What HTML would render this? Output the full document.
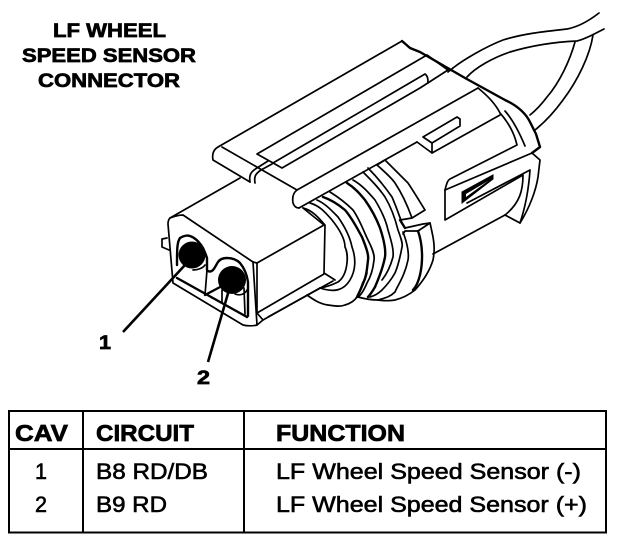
<!DOCTYPE html>
<html>
<head>
<meta charset="utf-8">
<style>
html,body{margin:0;padding:0;background:#fff;width:640px;height:542px;overflow:hidden}
svg{display:block}
text{font-family:"Liberation Sans",sans-serif;fill:#000}
.b{font-weight:bold;stroke:#000;stroke-width:.7px}
.r{stroke:#000;stroke-width:.6px}
.l{fill:none;stroke:#000;stroke-width:1.7;stroke-linejoin:round;stroke-linecap:round}
.t{fill:none;stroke:#000;stroke-width:2.4;stroke-linejoin:round;stroke-linecap:round}
</style>
</head>
<body>
<svg width="640" height="542" viewBox="0 0 640 542" xmlns="http://www.w3.org/2000/svg">
<!-- title -->
<text class="b" x="53" y="37" font-size="19.500" textLength="113" lengthAdjust="spacingAndGlyphs">LF WHEEL</text>
<text class="b" x="22" y="62" font-size="19.500" textLength="174" lengthAdjust="spacingAndGlyphs">SPEED SENSOR</text>
<text class="b" x="38" y="87" font-size="19.500" textLength="142" lengthAdjust="spacingAndGlyphs">CONNECTOR</text>

<!-- wires -->
<path class="l" d="M453 68C463 60 485 47 503 40C525 33 550 31 567 29C578 27 590 20 599 13"/>
<path class="l" d="M467 77C475 68 492 58 510 52C530 46 555 42 577 41C586 39 596 33 604 29"/>
<path class="l" d="M575 42C570 60 560 82 547 97C541 105 535 111 530 115"/>
<path class="l" d="M593 35C590 55 578 80 563 100C555 111 545 122 535 130"/>

<!-- top plate -->
<path class="t" d="M402 41L410 48L420 52L465 78L505 100C518 106 526 114 530 122L536 134L540 147L532 153"/>
<path class="l" d="M218 147L402 41"/>
<path class="l" d="M218 147C213 150 212 155 213 160L250 182"/>
<path class="l" d="M222 147L297 190C293 193 292 197 293 203C294 206 296 208 299 208"/>
<path class="l" d="M297 190L478 88"/>
<path class="l" d="M257 154L427 55L448 70L420 88L282 168Z"/>
<path class="l" d="M273 163L425 74C428 76 428 80 428 83"/>
<path class="l" d="M250 182C249 176 250 172 257 168L268 161"/>
<path class="l" d="M255 183C254 177 255 174 261 170L272 164"/>
<path class="l" d="M448 72L453 68"/>

<!-- tab -->
<path class="l" d="M417 142L432 153L432 143L460 126L460 119L457 117L423 137L432 143"/>
<path class="l" d="M432 153L500 115"/>
<path class="l" d="M478 88C488 96 496 105 500 113C508 122 514 132 517 145L450 179C448 180 447 182 445 190"/>
<path class="l" d="M505 111C513 120 520 134 525 146"/>
<path class="l" d="M299 208L417 142"/>

<!-- clip side -->
<path class="l" d="M445 190L532 153L540 160L538 177C536 190 530 207 520 223L505 215"/>
<path class="l" d="M445 190L445 220L523 175C523 190 520 203 505 215"/>
<path class="l" d="M467 203L530 170C529 185 526 205 520 223"/>
<path class="l" d="M505 215L433 254"/>
<path d="M462 192L493 175L493 179L462 203Z" fill="#000" stroke="#000" stroke-width="1"/>
<path d="M466 194L488 181L466 197Z" fill="#fff"/>

<!-- ribs -->
<path class="l" d="M303 208C312 210 319 218 325 225L324 273L335 280"/>
<path class="l" d="M310 203C320 206 325 212 332 220C340 230 345 240 345 247C349 255 348 275 338 282C332 285 326 287 320 288"/>
<path class="l" d="M317 200C326 204 332 211 338 217C345 227 350 237 352 247C356 258 356 270 350 280C344 290 335 293 320 288"/>
<path class="l" d="M307 295C314 300 320 304 328 305C335 306 340 307 345 305C352 303 355 300 357 297C362 288 365 280 367 273"/>
<path class="t" d="M323 197C332 200 339 205 345 210C352 218 357 228 362 237C366 247 369 255 368 260C367 270 366 278 363 283C361 289 359 293 357 297"/>
<path class="l" d="M330 192C338 197 346 203 353 210C360 220 364 232 368 240C372 248 375 255 374 260C373 270 370 278 367 283C364 290 361 295 358 297"/>
<path class="t" d="M347 183C355 188 360 194 365 200C372 210 377 220 380 228C384 240 386 250 385 257C383 268 378 280 375 287C372 292 370 295 368 297"/>
<path class="l" d="M353 180C362 185 369 193 375 200C381 210 386 220 388 230C391 240 394 250 393 257C390 268 386 275 382 280"/>
<path class="l" d="M363 172C371 180 379 188 385 197C391 207 395 218 398 230C401 238 403 244 402 247C400 258 398 266 395 273C391 280 386 286 382 290C378 294 374 296 370 297"/>
<path class="l" d="M368 168C377 177 385 187 392 197C396 206 399 215 402 223"/>
<path class="l" d="M358 297C365 299 372 300 378 300C385 301 390 301 395 300C403 298 410 294 415 290C424 280 430 270 433 260C435 250 434 243 433 237C432 232 431 227 430 223"/>
<path class="l" d="M377 165L385 160L408 183C414 192 420 202 425 210L412 218L400 220"/>
<path class="l" d="M377 165C385 172 393 180 395 183C403 195 408 207 412 218"/>
<path class="l" d="M405 228L423 224L430 223L418 231L405 231L403 234"/>
<path class="t" d="M400 220L405 228"/>
<path class="t" d="M418 231C423 245 423 262 420 275C418 283 415 288 413 290"/>
<path class="l" d="M403 232C408 245 409 255 408 260C405 275 398 285 395 292C390 297 385 298 378 300"/>

<!-- front box -->
<path class="l" d="M240 178L170 218C168 220 168 222 168 224L173 283L243 325C247 326 253 326 257 325L263 320L320 288"/>
<path class="l" d="M170 218C175 216 180 215 183 215L253 262L257 263L324 225L303 208"/>
<path class="l" d="M257 263L257 313L324 274"/>
<path class="l" d="M257 313L263 320"/>
<path class="l" d="M253 262L257 325"/>
<path class="l" d="M268 317L333 281"/>
<path class="l" d="M167 238L162 239L162 247L169 250"/>

<!-- cavities -->
<path class="t" d="M177 265C177 250 177 242 180 238C183 236 187 235 190 236C196 238 200 243 203 248C205 252 206 255 207 258L207 270C208 272 211 272 213 270C215 268 216 265 218 262C220 259 224 258 227 258C233 258 237 260 240 263C245 269 247 275 248 282L248 316"/>
<path class="t" d="M177 278L247 317"/>
<path class="l" d="M207 270L205 295"/>
<path class="t" d="M205 295L222 286"/>
<path class="l" d="M222 290L222 303"/>
<path class="l" d="M244 288L245 314"/>
<path class="l" d="M193 270C198 270 203 268 205 265"/>
<path class="l" d="M235 294C240 296 245 294 247 290"/>
<circle cx="192" cy="255" r="13.500" fill="#000"/>
<circle cx="232" cy="280" r="14" fill="#000"/>

<!-- leaders -->
<path d="M123 332L185 265" fill="none" stroke="#000" stroke-width="2.600"/>
<path d="M208 362L229 290" fill="none" stroke="#000" stroke-width="2.600"/>
<text class="b" x="99" y="349" font-size="19" textLength="12" lengthAdjust="spacingAndGlyphs">1</text>
<text class="b" x="197" y="384" font-size="19" textLength="13" lengthAdjust="spacingAndGlyphs">2</text>

<!-- table -->
<rect x="9" y="411" width="597" height="121.500" fill="none" stroke="#000" stroke-width="2"/>
<path d="M9 449H606M83 411V532M244 411V532" fill="none" stroke="#000" stroke-width="2"/>
<text class="b" x="15" y="441" font-size="23.500" textLength="53" lengthAdjust="spacingAndGlyphs">CAV</text>
<text class="b" x="96" y="441" font-size="23.500" textLength="98" lengthAdjust="spacingAndGlyphs">CIRCUIT</text>
<text class="b" x="276" y="441" font-size="23.500" textLength="129" lengthAdjust="spacingAndGlyphs">FUNCTION</text>
<text class="r" x="35" y="479" font-size="22.500" textLength="12" lengthAdjust="spacingAndGlyphs">1</text>
<text class="r" x="35" y="512" font-size="22.500" textLength="12" lengthAdjust="spacingAndGlyphs">2</text>
<text class="r" x="96" y="479" font-size="22.500" textLength="112" lengthAdjust="spacingAndGlyphs">B8 RD/DB</text>
<text class="r" x="96" y="512" font-size="22.500" textLength="71" lengthAdjust="spacingAndGlyphs">B9 RD</text>
<text class="r" x="276" y="479" font-size="22.500" textLength="305" lengthAdjust="spacingAndGlyphs">LF Wheel Speed Sensor (-)</text>
<text class="r" x="276" y="512" font-size="22.500" textLength="311" lengthAdjust="spacingAndGlyphs">LF Wheel Speed Sensor (+)</text>
</svg>
</body>
</html>
